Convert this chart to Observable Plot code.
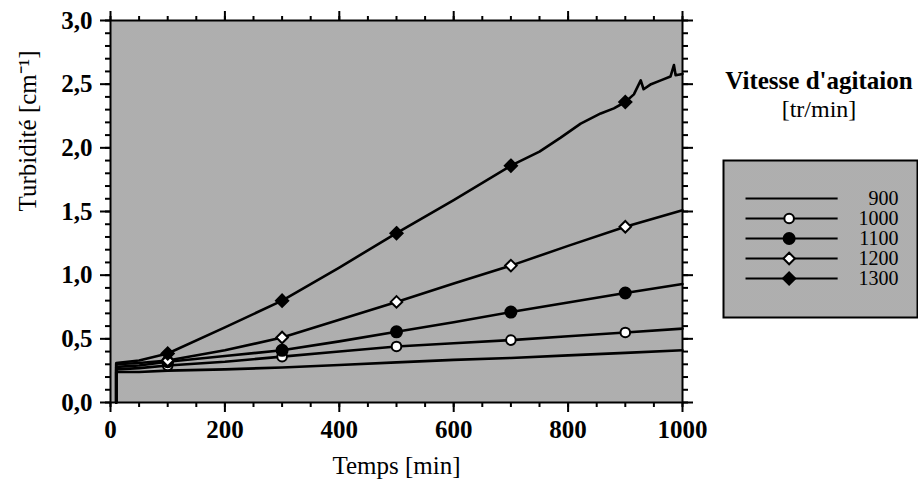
<!DOCTYPE html>
<html>
<head>
<meta charset="utf-8">
<script src="https://cdn.jsdelivr.net/npm/d3@7"></script>
<script src="https://cdn.jsdelivr.net/npm/@observablehq/plot@0.6"></script>
<style>
  body { margin: 0; background: #fff; }
  #chart { position: relative; width: 918px; height: 483px; font-family: "Liberation Serif", "DejaVu Serif", serif; }
  #legendTitle { position: absolute; left: 712px; width: 214px; top: 66px; text-align: center; font-size: 24px; line-height: 29px; color: #000; }
  #legendTitle .t1 { font-weight: bold; font-size: 25px; }
  #legendBox { position: absolute; left: 722px; top: 159px; }
</style>
</head>
<body>
<svg width="0" height="0" style="position:absolute">
  <defs>
    <pattern id="dither" width="2" height="2" patternUnits="userSpaceOnUse">
      <rect width="2" height="2" fill="#ffffff"/>
      <rect x="0" y="0" width="1" height="1" fill="#5e5e5e"/>
      <rect x="1" y="1" width="1" height="1" fill="#5e5e5e"/>
    </pattern>
  </defs>
</svg>
<div id="chart">
  <div id="legendTitle"><div class="t1">Vitesse d'agitaion</div><div>[tr/min]</div></div>
  <div id="legendBox"></div>
</div>
<script>
// ---- Data ----
const seriesNames = ["900", "1000", "1100", "1200", "1300"];
const timeGrid = [10, 10, 50, 100, 200, 300, 400, 500, 600, 700, 800, 900, 1000];
const turb900  = [0, 0.24, 0.24, 0.25, 0.26, 0.275, 0.295, 0.315, 0.335, 0.35, 0.37, 0.39, 0.41];
const turb1000 = [0, 0.26, 0.27, 0.29, 0.32, 0.36, 0.40, 0.44, 0.465, 0.49, 0.52, 0.55, 0.58];
const turb1100 = [0, 0.28, 0.29, 0.32, 0.365, 0.41, 0.48, 0.555, 0.63, 0.71, 0.785, 0.86, 0.93];
const turb1200 = [0, 0.30, 0.31, 0.33, 0.41, 0.51, 0.65, 0.79, 0.935, 1.075, 1.23, 1.38, 1.51];
const time1300 = [10, 10, 50, 100, 200, 300, 400, 500, 600, 700, 750, 787, 822, 857, 880, 900, 915, 927, 932, 945, 962, 979, 985, 988, 1000];
const turb1300 = [0, 0.31, 0.33, 0.385, 0.59, 0.80, 1.06, 1.33, 1.59, 1.86, 1.97, 2.08, 2.19, 2.27, 2.31, 2.36, 2.42, 2.53, 2.46, 2.50, 2.53, 2.56, 2.65, 2.57, 2.58];
const markerTimes = [100, 300, 500, 700, 900];
const xMajorTicks = [0, 200, 400, 600, 800, 1000];
const yMajorTicks = [0, 0.5, 1.0, 1.5, 2.0, 2.5, 3.0];

// ---- Build table ----
const seriesTimes = {"900": timeGrid, "1000": timeGrid, "1100": timeGrid, "1200": timeGrid, "1300": time1300};
const seriesValues = {"900": turb900, "1000": turb1000, "1100": turb1100, "1200": turb1200, "1300": turb1300};
const rows = seriesNames.flatMap(s => seriesTimes[s].map((t, i) => ({series: s, t, v: seriesValues[s][i]})));

const markerStyle = {
  "1000": {symbol: "circle", fill: "white", r: 4.8},
  "1100": {symbol: "circle", fill: "black", r: 5.5},
  "1200": {symbol: "diamond2", fill: "white", r: 5.2},
  "1300": {symbol: "diamond2", fill: "black", r: 5.5}
};

const xMinor = d3.range(0, 1001, 50);
const yMinor = d3.range(0, 31).map(i => i / 10);
const fmtY = d => d.toFixed(1).replace(".", ",");
const fmtX = d => String(d);
const FONT = "Liberation Serif";

const lineMarks = seriesNames.map(s =>
  Plot.line(rows.filter(r => r.series === s), {x: "t", y: "v", stroke: "black", strokeWidth: 2.6, curve: "linear"})
);
const dotMarks = seriesNames.filter(s => markerStyle[s]).map(s =>
  Plot.dot(rows.filter(r => r.series === s && markerTimes.includes(r.t)), {
    x: "t", y: "v", symbol: markerStyle[s].symbol, r: markerStyle[s].r,
    fill: markerStyle[s].fill, stroke: "black", strokeWidth: 2
  })
);

const chart = Plot.plot({
  width: 918,
  height: 483,
  marginLeft: 110,
  marginRight: 236,
  marginTop: 20,
  marginBottom: 81,
  style: {fontFamily: FONT, fontSize: "25px", color: "black", background: "transparent"},
  x: {domain: [0, 1000]},
  y: {domain: [0, 3]},
  marks: [
    Plot.frame({fill: "url(#dither)"}),
    ...lineMarks,
    ...dotMarks,
    Plot.frame({stroke: "black", strokeWidth: 2}),
    // bottom axis
    Plot.axisX({anchor: "bottom", ticks: xMinor, tickSize: 5, strokeWidth: 2, tickFormat: () => "", label: null}),
    Plot.axisX({anchor: "bottom", ticks: xMajorTicks, tickSize: 10, tickPadding: 8, strokeWidth: 2, tickFormat: fmtX, fontWeight: "bold", fontSize: 25, label: null}),
    // top axis
    Plot.axisX({anchor: "top", ticks: xMinor, tickSize: 5, strokeWidth: 2, tickFormat: () => "", label: null}),
    Plot.axisX({anchor: "top", ticks: xMajorTicks, tickSize: 10, strokeWidth: 2, tickFormat: () => "", label: null}),
    // left axis
    Plot.axisY({anchor: "left", ticks: yMinor, tickSize: 5, strokeWidth: 2, tickFormat: () => "", label: null}),
    Plot.axisY({anchor: "left", ticks: yMajorTicks, tickSize: 10, tickPadding: 8, strokeWidth: 2, tickFormat: fmtY, fontWeight: "bold", fontSize: 25, label: null}),
    // right axis
    Plot.axisY({anchor: "right", ticks: yMinor, tickSize: 5, strokeWidth: 2, tickFormat: () => "", label: null}),
    Plot.axisY({anchor: "right", ticks: yMajorTicks, tickSize: 10, strokeWidth: 2, tickFormat: () => "", label: null}),
    // axis titles
    Plot.text(["Temps [min]"], {frameAnchor: "bottom", dy: 63, lineAnchor: "middle", fontSize: 25, fill: "black"}),
    Plot.text(["Turbidité [cm⁻¹]"], {frameAnchor: "left", dx: -83, rotate: -90, lineAnchor: "middle", fontSize: 25, fill: "black"})
  ]
});
document.getElementById("chart").prepend(chart);

// ---- Legend box ----
const legend = Plot.plot({
  width: 196,
  height: 159,
  margin: 0,
  axis: null,
  style: {fontFamily: FONT, background: "transparent", overflow: "visible"},
  x: {domain: [0, 1]},
  y: {type: "point", domain: seriesNames, insetTop: 28, insetBottom: 29},
  marks: [
    Plot.frame({fill: "url(#dither)", stroke: "black", strokeWidth: 2, inset: 1}),
    Plot.ruleY(seriesNames, {y: d => d, x1: 0.12, x2: 0.59, stroke: "black", strokeWidth: 2}),
    ...seriesNames.filter(s => markerStyle[s]).map(s =>
      Plot.dot([s], {x: 0.34, y: d => d, symbol: markerStyle[s].symbol, r: markerStyle[s].r,
        fill: markerStyle[s].fill, stroke: "black", strokeWidth: 2})
    ),
    Plot.text(seriesNames, {y: d => d, text: d => d, frameAnchor: "right", dx: -20, textAnchor: "end",
      fontSize: 20, fill: "black", lineAnchor: "middle"})
  ]
});
document.getElementById("legendBox").appendChild(legend);
</script>
</body>
</html>
